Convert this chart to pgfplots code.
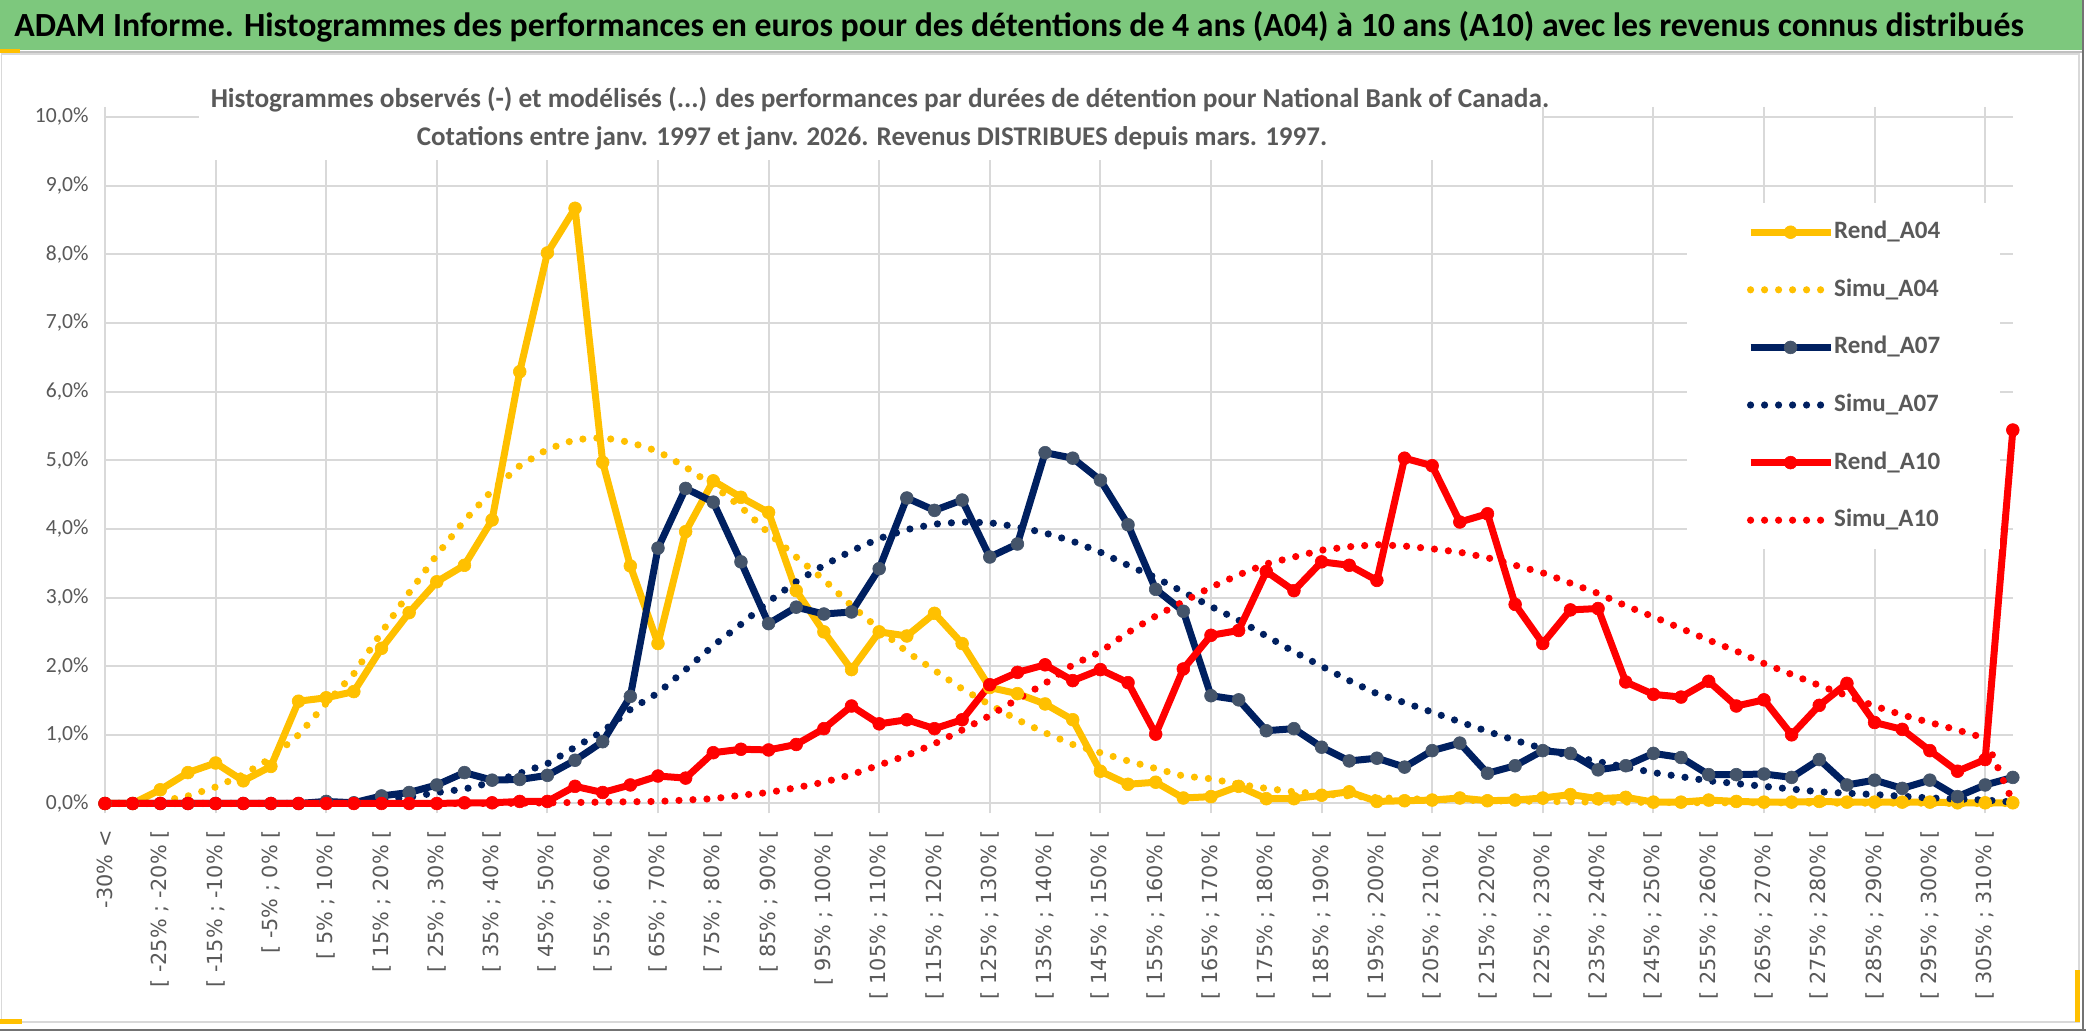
\documentclass[border=0pt]{standalone}
\usepackage{fontspec}
\setmainfont{Carlito}
\newfontfamily\dejavu{DejaVu Sans}
\usepackage{pgfplots}
\usepackage{pgfplotstable}
\pgfplotsset{compat=1.18}

\definecolor{gold}{HTML}{FFC000}
\definecolor{navy}{HTML}{002060}
\definecolor{slate}{HTML}{44546A}
\definecolor{rouge}{HTML}{FF0000}
\definecolor{grille}{HTML}{D9D9D9}
\definecolor{gristexte}{HTML}{595959}
\definecolor{bandeau}{RGB}{125,200,125}

% i = classe de performance (0 = "-30% <", puis pas de 5%)
\pgfplotstableread{
i  r04   s04   r07   s07   r10   s10
0  0     0     0     0     0     0
1  0     0     0     0     0     0
2  0.20  0.03  0     0     0     0
3  0.45  0.11  0     0     0     0
4  0.59  0.24  0     0     0     0
5  0.33  0.42  0     0     0     0
6  0.54  0.66  0     0     0     0
7  1.49  1.00  0     0     0     0
8  1.54  1.46  0.03  0.01  0     0
9  1.63  1.89  0.01  0.02  0     0
10 2.26  2.49  0.11  0.05  0     0
11 2.78  3.07  0.16  0.09  0     0
12 3.23  3.62  0.27  0.16  0     0
13 3.47  4.12  0.45  0.21  0.01  0
14 4.13  4.56  0.34  0.31  0.01  0
15 6.29  4.92  0.35  0.44  0.03  0.005
16 8.02  5.16  0.41  0.58  0.03  0.01
17 8.67  5.30  0.63  0.82  0.25  0.015
18 4.97  5.33  0.90  1.05  0.16  0.02
19 3.46  5.26  1.56  1.37  0.27  0.025
20 2.33  5.13  3.72  1.61  0.40  0.03
21 3.96  4.90  4.59  1.95  0.37  0.05
22 4.70  4.63  4.39  2.30  0.74  0.07
23 4.46  4.32  3.52  2.61  0.79  0.12
24 4.24  3.94  2.62  2.94  0.78  0.16
25 3.10  3.59  2.86  3.23  0.86  0.23
26 2.50  3.26  2.76  3.47  1.09  0.31
27 1.95  2.88  2.79  3.68  1.42  0.42
28 2.50  2.54  3.42  3.86  1.16  0.56
29 2.44  2.21  4.45  3.99  1.22  0.70
30 2.77  1.94  4.27  4.07  1.09  0.87
31 2.33  1.67  4.42  4.10  1.22  1.07
32 1.69  1.44  3.59  4.09  1.73  1.28
33 1.60  1.22  3.78  4.03  1.91  1.52
34 1.45  1.03  5.11  3.94  2.02  1.75
35 1.22  0.86  5.03  3.82  1.79  2.02
36 0.47  0.74  4.71  3.66  1.95  2.21
37 0.28  0.62  4.06  3.47  1.76  2.49
38 0.31  0.51  3.12  3.29  1.01  2.73
39 0.08  0.40  2.80  3.08  1.96  2.94
40 0.10  0.36  1.57  2.87  2.45  3.15
41 0.25  0.28  1.51  2.67  2.52  3.33
42 0.07  0.22  1.06  2.44  3.38  3.49
43 0.07  0.17  1.09  2.21  3.10  3.59
44 0.12  0.14  0.82  2.00  3.52  3.69
45 0.17  0.11  0.62  1.79  3.47  3.74
46 0.03  0.085 0.66  1.60  3.25  3.77
47 0.04  0.07  0.53  1.47  5.03  3.75
48 0.05  0.06  0.77  1.33  4.92  3.71
49 0.08  0.05  0.88  1.19  4.10  3.66
50 0.04  0.04  0.44  1.05  4.22  3.58
51 0.05  0.035 0.55  0.92  2.90  3.47
52 0.08  0.03  0.77  0.80  2.33  3.36
53 0.13  0.025 0.73  0.69  2.82  3.21
54 0.07  0.02  0.49  0.61  2.84  3.06
55 0.09  0.02  0.55  0.53  1.77  2.88
56 0.02  0.015 0.73  0.45  1.59  2.72
57 0.02  0.015 0.67  0.39  1.55  2.55
58 0.05  0.01  0.42  0.33  1.78  2.38
59 0.03  0.01  0.42  0.29  1.42  2.22
60 0.02  0.01  0.43  0.25  1.51  2.04
61 0.02  0.01  0.38  0.21  1.00  1.88
62 0.03  0.005 0.64  0.17  1.43  1.72
63 0.02  0.005 0.27  0.15  1.75  1.57
64 0.02  0.005 0.34  0.13  1.18  1.42
65 0.02  0.005 0.22  0.105 1.08  1.29
66 0.02  0.005 0.34  0.08  0.77  1.18
67 0.01  0     0.10  0.065 0.47  1.07
68 0.01  0     0.27  0.05  0.64  0.95
69 0.01  0     0.38  0.02  5.44  0.02
}\histo

\pgfplotsset{
  rend/.style={line width=3.5pt, line join=round, mark=*, mark size=3.2pt},
  simu/.style={line width=3.6pt, line cap=round, line join=round,
    dash pattern=on 0pt off 7pt, mark=none},
}

\begin{document}
\begin{tikzpicture}
% fond, bandeau et cadre (coordonnees en pixels de l'image)
\begin{scope}[shift={(0pt,515.5pt)}, x=0.5pt, y=-0.5pt]
  \fill[white] (0,0) rectangle (2086,1031);
  \fill[bandeau] (0,0) rectangle (2083,50);
  \draw[line width=1pt, black!25] (0,52) -- (2083,52);
  \draw[line width=0.75pt, grille] (1.5,54) rectangle (2079,1022);
  \draw[line width=1pt, black!55] (2083,0) -- (2083,1031);
  \draw[line width=1pt, black!55] (0,1030) -- (2086,1030);
  \fill[gold] (0,49) rectangle (20,53);
  \fill[gold] (0,1019) rectangle (22,1024);
  \fill[gold] (2075,970) rectangle (2080,1022);
  \node[anchor=base west, inner sep=0pt, font=\bfseries\fontsize{16.9}{20}\selectfont]
    at (14,37) {ADAM Informe. Histogrammes des performances en euros pour des détentions de 4 ans (A04) à 10 ans (A10) avec les revenus connus distribués};
\end{scope}

\begin{axis}[
  at={(52.5pt,113.75pt)}, anchor=south west,
  scale only axis, width=953.9pt, height=343.25pt,
  xmin=0, xmax=69, ymin=0, ymax=10,
  clip=false,
  axis line style={draw=none},
  major tick length=0pt,
  xtick={0,2,...,68},
  xticklabels={{-30\% <},
    {[ -25\% ; -20\% [},{[ -15\% ; -10\% [},{[ -5\% ; 0\% [},{[ 5\% ; 10\% [},
    {[ 15\% ; 20\% [},{[ 25\% ; 30\% [},{[ 35\% ; 40\% [},{[ 45\% ; 50\% [},
    {[ 55\% ; 60\% [},{[ 65\% ; 70\% [},{[ 75\% ; 80\% [},{[ 85\% ; 90\% [},
    {[ 95\% ; 100\% [},{[ 105\% ; 110\% [},{[ 115\% ; 120\% [},{[ 125\% ; 130\% [},
    {[ 135\% ; 140\% [},{[ 145\% ; 150\% [},{[ 155\% ; 160\% [},{[ 165\% ; 170\% [},
    {[ 175\% ; 180\% [},{[ 185\% ; 190\% [},{[ 195\% ; 200\% [},{[ 205\% ; 210\% [},
    {[ 215\% ; 220\% [},{[ 225\% ; 230\% [},{[ 235\% ; 240\% [},{[ 245\% ; 250\% [},
    {[ 255\% ; 260\% [},{[ 265\% ; 270\% [},{[ 275\% ; 280\% [},{[ 285\% ; 290\% [},
    {[ 295\% ; 300\% [},{[ 305\% ; 310\% [}},
  xticklabel style={font=\dejavu\fontsize{10.4}{12}\selectfont, text=gristexte,
    rotate=90, anchor=east, inner sep=0pt},
  xticklabel shift=13.25pt,
  extra x ticks={0,4,...,68},
  extra x tick labels={},
  extra x tick style={grid=major, tick align=outside, major tick length=5pt,
    tick style={draw=grille, line width=1pt}},
  ytick={0,1,...,10},
  yticklabels={{0,0\%},{1,0\%},{2,0\%},{3,0\%},{4,0\%},{5,0\%},{6,0\%},{7,0\%},{8,0\%},{9,0\%},{10,0\%}},
  yticklabel style={font=\fontsize{10.8}{12}\selectfont, text=gristexte, anchor=east, inner sep=0pt},
  yticklabel shift=8pt,
  ymajorgrids,
  grid style={draw=grille, line width=1pt},
  legend cell align=left,
  legend style={at={(0.829,0.8747)}, anchor=north west, draw=none, fill=white,
    inner xsep=30pt, inner ysep=0pt, row sep=0pt,
    font=\bfseries\fontsize{12.5}{15}\selectfont, text=gristexte,
    nodes={inner xsep=0pt, inner ysep=0pt, text height=9pt, text depth=2.5pt, minimum height=28.8pt},
    /tikz/every even column/.append style={column sep=2.5pt}},
  legend image code/.code={\draw[mark repeat=2,mark phase=2,#1]
    plot coordinates {(0pt,0pt) (20pt,0pt) (40pt,0pt)};},
]
\addplot[gold, rend, mark options={fill=gold, draw=gold, line width=0.3pt}] table[x=i, y=r04] {\histo};
\addlegendentry{Rend\_A04}
\addplot[gold, simu] table[x=i, y=s04] {\histo};
\addlegendentry{Simu\_A04}
\addplot[navy, rend, mark options={fill=slate, draw=slate, line width=0.3pt}] table[x=i, y=r07] {\histo};
\addlegendentry{Rend\_A07}
\addplot[navy, simu] table[x=i, y=s07] {\histo};
\addlegendentry{Simu\_A07}
\addplot[rouge, rend, mark options={fill=rouge, draw=rouge, line width=0.3pt}] table[x=i, y=r10] {\histo};
\addlegendentry{Rend\_A10}
\addplot[rouge, simu] table[x=i, y=s10] {\histo};
\addlegendentry{Simu\_A10}
\end{axis}

% titre du graphique sur fond blanc
\begin{scope}[shift={(0pt,515.5pt)}, x=0.5pt, y=-0.5pt]
  \fill[white] (199,58) rectangle (1542,160);
  \node[anchor=base, inner sep=0pt, text=gristexte, font=\bfseries\fontsize{13.65}{16}\selectfont]
    at (880,108) {Histogrammes observés (-) et modélisés (...) des performances par durées de détention pour National Bank of Canada.};
  \node[anchor=base, inner sep=0pt, text=gristexte, font=\bfseries\fontsize{13.5}{16}\selectfont]
    at (872,146) {Cotations entre janv. 1997 et janv. 2026. Revenus DISTRIBUES depuis mars. 1997.};
\end{scope}

\pgfresetboundingbox
\path[use as bounding box] (0,0) rectangle (1043pt,515.5pt);
\end{tikzpicture}
\end{document}
